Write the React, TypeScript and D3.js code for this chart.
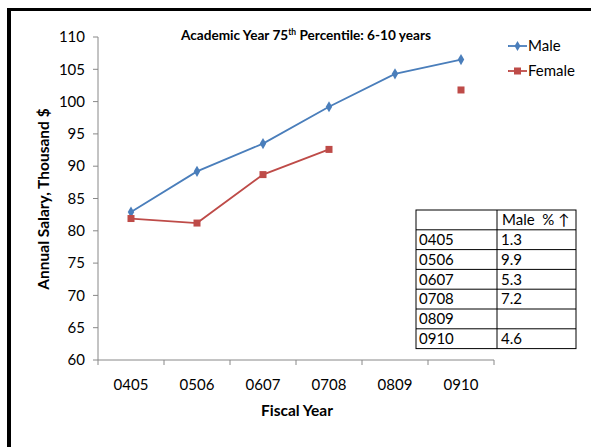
import React from "react";
import * as d3 from "d3";

const years = ["0405", "0506", "0607", "0708", "0809", "0910"];
const male: (number | null)[] = [82.9, 89.2, 93.5, 99.2, 104.3, 106.5];
const female: (number | null)[] = [81.9, 81.2, 88.7, 92.6, null, 101.8];
const yTicks = [60, 65, 70, 75, 80, 85, 90, 95, 100, 105, 110];
const tableRows = [
  ["0405", "1.3"],
  ["0506", "9.9"],
  ["0607", "5.3"],
  ["0708", "7.2"],
  ["0809", ""],
  ["0910", "4.6"],
];

const W = 591;
const H = 447;
const FONT = "Lato, 'Open Sans', sans-serif";
const MALE_C = "#4a7ebb";
const FEMALE_C = "#be4b48";

export default function App() {
  const x = d3.scaleBand<string>().domain(years).range([98, 494]);
  const y = d3.scaleLinear().domain([60, 110]).range([360, 37]);
  const cx = (i: number) => (x(years[i]) as number) + x.bandwidth() / 2;

  const line = d3
    .line<number | null>()
    .defined((d) => d !== null)
    .x((_, i) => cx(i))
    .y((d) => y(d as number));

  const tX = 416, tY = 210, c1 = 497, tR = 576, rh = 19.8;

  return (
    <svg
      width={W}
      height={H}
      style={{ position: "absolute", left: 0, top: 0, background: "#fff" }}
      fontFamily={FONT}
    >
      <rect x={0} y={0} width={W} height={H} fill="#fff" />
      {/* frame */}
      <line x1={7} y1={9.5} x2={W} y2={9.5} stroke="#000" strokeWidth={3} />
      <line x1={9} y1={8} x2={9} y2={H} stroke="#000" strokeWidth={4} />

      {/* title */}
      <text x={306} y={40} textAnchor="middle" fontSize={13.6} fontWeight="bold" fill="#000">
        Academic Year 75
        <tspan fontSize={8.5} dy={-5}>th</tspan>
        <tspan dy={5}> Percentile: 6-10 years</tspan>
      </text>

      {/* y axis */}
      <line x1={98} y1={37} x2={98} y2={360} stroke="#888" />
      {yTicks.map((t) => (
        <g key={t}>
          <line x1={93} x2={98} y1={y(t)} y2={y(t)} stroke="#888" />
          <text x={85} y={y(t)} dy="0.35em" textAnchor="end" fontSize={15} fill="#000">
            {t}
          </text>
        </g>
      ))}
      {/* x axis */}
      <line x1={98} y1={360} x2={494} y2={360} stroke="#888" />
      {years.map((yr, i) => (
        <g key={yr}>
          <line
            x1={(x(yr) as number)}
            x2={(x(yr) as number)}
            y1={360}
            y2={365}
            stroke="#888"
          />
          <text x={cx(i)} y={390} textAnchor="middle" fontSize={15} fill="#000">
            {yr}
          </text>
        </g>
      ))}
      <line x1={494} x2={494} y1={360} y2={365} stroke="#888" />

      <text x={297} y={416} textAnchor="middle" fontSize={15.5} fontWeight="bold">
        Fiscal Year
      </text>
      <text
        transform={`translate(49,${199}) rotate(-90)`}
        textAnchor="middle"
        fontSize={15.5}
        fontWeight="bold"
      >
        Annual Salary, Thousand $
      </text>

      {/* series */}
      <path d={line(male) || ""} fill="none" stroke={MALE_C} strokeWidth={1.8} />
      <path d={line(female) || ""} fill="none" stroke={FEMALE_C} strokeWidth={1.8} />
      {male.map((v, i) =>
        v === null ? null : (
          <path
            key={"m" + i}
            d={d3.symbol(d3.symbolDiamond, 36)() || ""}
            transform={`translate(${cx(i)},${y(v)})`}
            fill={MALE_C}
          />
        )
      )}
      {female.map((v, i) =>
        v === null ? null : (
          <rect
            key={"f" + i}
            x={cx(i) - 3.5}
            y={y(v) - 3.5}
            width={7}
            height={7}
            fill={FEMALE_C}
          />
        )
      )}

      {/* legend */}
      <line x1={508} x2={527} y1={46} y2={46} stroke={MALE_C} strokeWidth={1.8} />
      <path d={d3.symbol(d3.symbolDiamond, 30)() || ""} transform="translate(517.5,46)" fill={MALE_C} />
      <text x={528} y={46} dy="0.35em" fontSize={15}>Male</text>
      <line x1={508} x2={527} y1={71} y2={71} stroke={FEMALE_C} strokeWidth={1.8} />
      <rect x={514} y={67.5} width={7} height={7} fill={FEMALE_C} />
      <text x={528} y={71} dy="0.35em" fontSize={15}>Female</text>

      {/* table */}
      <g fontSize={15}>
        <rect x={tX} y={tY} width={tR - tX} height={rh * 7} fill="#fff" stroke="#000" />
        <line x1={c1} x2={c1} y1={tY} y2={tY + rh * 7} stroke="#000" />
        {d3.range(1, 7).map((k) => (
          <line key={k} x1={tX} x2={tR} y1={tY + rh * k} y2={tY + rh * k} stroke="#000" />
        ))}
        <text x={c1 + 5} y={tY + rh / 2} dy="0.35em" style={{ whiteSpace: "pre" }}>{"Male  % ↑"}</text>
        {tableRows.map((r, k) => (
          <g key={r[0]}>
            <text x={tX + 3} y={tY + rh * (k + 1.5)} dy="0.35em">{r[0]}</text>
            <text x={c1 + 4} y={tY + rh * (k + 1.5)} dy="0.35em">{r[1]}</text>
          </g>
        ))}
      </g>
    </svg>
  );
}
